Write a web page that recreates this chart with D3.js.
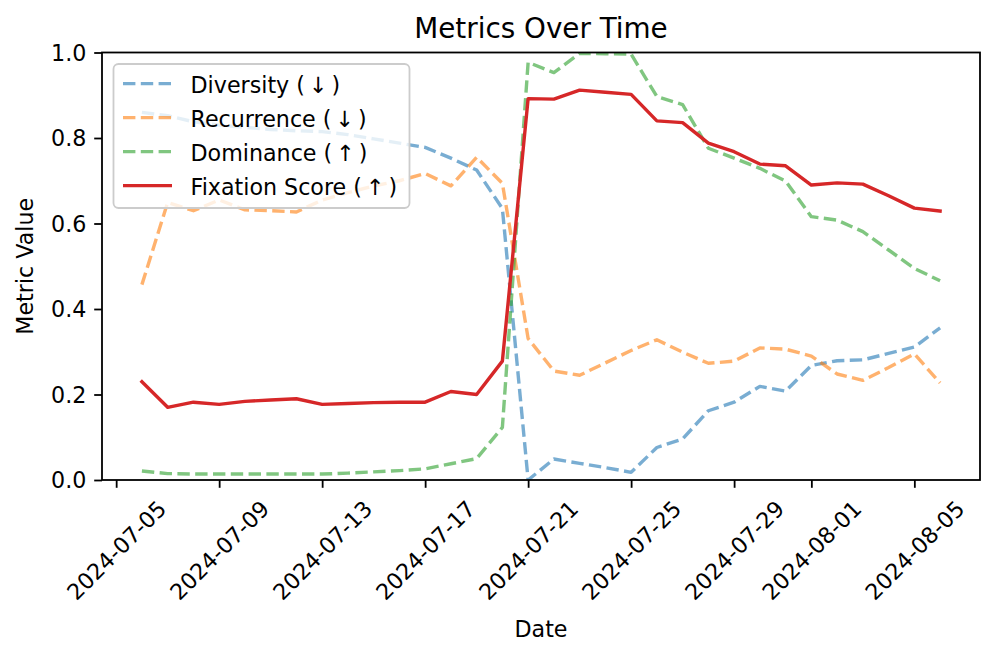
<!DOCTYPE html>
<html>
<head>
<meta charset="utf-8">
<script src="https://cdn.jsdelivr.net/npm/d3@7"></script>
<style>
  body { margin: 0; background: #fff; }
  text { font-family: "DejaVu Sans", sans-serif; fill: #000; }
</style>
</head>
<body>
<div id="chart"></div>
<script>
// ------------------------------------------------------------
// Data
// ------------------------------------------------------------
const dates = [
    "2024-07-06", "2024-07-07", "2024-07-08", "2024-07-09", "2024-07-10", "2024-07-11",
    "2024-07-12", "2024-07-13", "2024-07-14", "2024-07-15", "2024-07-16", "2024-07-17",
    "2024-07-18", "2024-07-19", "2024-07-20", "2024-07-21", "2024-07-22", "2024-07-23",
    "2024-07-24", "2024-07-25", "2024-07-26", "2024-07-27", "2024-07-28", "2024-07-29",
    "2024-07-30", "2024-07-31", "2024-08-01", "2024-08-02", "2024-08-03", "2024-08-04",
    "2024-08-05", "2024-08-06"
];

const diversity = [
    0.860, 0.852, 0.838, 0.830, 0.825, 0.820, 0.817, 0.815, 0.808, 0.798, 0.788, 0.778,
    0.753, 0.725, 0.635, 0.000, 0.049, 0.039, 0.029, 0.018, 0.076, 0.096, 0.162, 0.182,
    0.219, 0.208, 0.268, 0.279, 0.281, 0.296, 0.311, 0.356
];

const recurrence = [
    0.457, 0.649, 0.630, 0.655, 0.632, 0.630, 0.627, 0.655, 0.672, 0.688, 0.700, 0.717,
    0.688, 0.755, 0.694, 0.331, 0.255, 0.245, 0.274, 0.303, 0.328, 0.299, 0.273, 0.278,
    0.309, 0.306, 0.290, 0.248, 0.233, 0.263, 0.295, 0.227
];

const dominance = [
    0.021, 0.015, 0.014, 0.014, 0.014, 0.014, 0.014, 0.014, 0.016, 0.019, 0.022, 0.026,
    0.038, 0.050, 0.123, 0.977, 0.953, 0.998, 0.997, 0.996, 0.897, 0.878, 0.776, 0.753,
    0.729, 0.699, 0.616, 0.608, 0.581, 0.538, 0.495, 0.466
];

const fixation = [
    0.230, 0.170, 0.182, 0.177, 0.184, 0.187, 0.190, 0.177, 0.179, 0.181, 0.182, 0.182,
    0.207, 0.200, 0.278, 0.892, 0.891, 0.912, 0.907, 0.902, 0.840, 0.836, 0.788, 0.768,
    0.739, 0.735, 0.690, 0.695, 0.692, 0.665, 0.636, 0.629
];

const xTickLabels = [
    "2024-07-05", "2024-07-09", "2024-07-13", "2024-07-17", "2024-07-21",
    "2024-07-25", "2024-07-29", "2024-08-01", "2024-08-05"
];
const yTickValues = [0.0, 0.2, 0.4, 0.6, 0.8, 1.0];

const seriesNames = ["Diversity (↓)", "Recurrence (↓)", "Dominance (↑)", "Fixation Score (↑)"];
const seriesValues = [diversity, recurrence, dominance, fixation];

// ------------------------------------------------------------
// Layout / style
// ------------------------------------------------------------
const width = 997, height = 658;
const plot = { left: 102, right: 980, top: 52.5, bottom: 480 };
const fontSize = 22.2;
const lineWidth = 3.4;
const tickLen = 7.8, tickPad = 7.8;

const styles = [
    { color: "#1f77b4", alpha: 0.6, dash: "12.4,5.4" },
    { color: "#ff7f0e", alpha: 0.6, dash: "12.4,5.4" },
    { color: "#2ca02c", alpha: 0.6, dash: "12.4,5.4" },
    { color: "#d62728", alpha: 1.0, dash: null }
];

const parse = d3.timeParse("%Y-%m-%d");
const fmt = d3.timeFormat("%Y-%m-%d");
const xDates = dates.map(parse);

const svg = d3.select("#chart")
    .append("svg")
    .attr("width", width)
    .attr("height", height);

// Scales: matplotlib style 5% margin on x
const [x0, x1] = d3.extent(xDates);
const span = x1 - x0;
const xScale = d3.scaleTime()
    .domain([new Date(+x0 - span * 0.05), new Date(+x1 + span * 0.05)])
    .range([plot.left, plot.right]);

const yScale = d3.scaleLinear()
    .domain([0, 1])
    .range([plot.bottom, plot.top]);

// Lines
svg.append("clipPath").attr("id", "plot-clip")
    .append("rect")
    .attr("x", plot.left).attr("y", plot.top)
    .attr("width", plot.right - plot.left)
    .attr("height", plot.bottom - plot.top);

const line = d3.line()
    .x(d => xScale(d[0]))
    .y(d => yScale(d[1]));

const linesG = svg.append("g").attr("clip-path", "url(#plot-clip)");
seriesValues.forEach((vals, i) => {
    const st = styles[i];
    linesG.append("path")
        .datum(xDates.map((d, j) => [d, vals[j]]))
        .attr("d", line)
        .attr("fill", "none")
        .attr("stroke", st.color)
        .attr("stroke-opacity", st.alpha)
        .attr("stroke-width", lineWidth)
        .attr("stroke-linejoin", "round")
        .attr("stroke-linecap", st.dash ? "butt" : "square")
        .attr("stroke-dasharray", st.dash);
});

// Axes
const xAxis = d3.axisBottom(xScale)
    .tickValues(xTickLabels.map(parse))
    .tickFormat(fmt)
    .tickSize(tickLen)
    .tickPadding(tickPad)
    .tickSizeOuter(0);

const gx = svg.append("g")
    .attr("transform", `translate(0,${plot.bottom})`)
    .call(xAxis);

gx.select(".domain").remove();
gx.selectAll(".tick line").attr("stroke", "#000").attr("stroke-width", 1.8);
gx.selectAll(".tick text")
    .attr("font-size", fontSize)
    .attr("font-family", "DejaVu Sans")
    .attr("text-anchor", "middle")
    .attr("y", null)
    .attr("dy", "0.35em")
    .each(function () {
        // rotate 45deg, bbox centred on tick, top at tick + pad
        const w = this.getComputedTextLength();
        const h = fontSize * 1.164;
        const half = (w + h) / (2 * Math.SQRT2);
        d3.select(this).attr("transform", `translate(0,${tickLen + tickPad + half}) rotate(-45)`);
    });

const yAxis = d3.axisLeft(yScale)
    .tickValues(yTickValues)
    .tickFormat(d3.format(".1f"))
    .tickSize(tickLen)
    .tickPadding(tickPad)
    .tickSizeOuter(0);

const gy = svg.append("g")
    .attr("transform", `translate(${plot.left},0)`)
    .call(yAxis);

gy.select(".domain").remove();
gy.selectAll(".tick line").attr("stroke", "#000").attr("stroke-width", 1.8);
gy.selectAll(".tick text")
    .attr("font-size", fontSize)
    .attr("font-family", "DejaVu Sans")
    .attr("dy", "0.35em");

// Spines
svg.append("rect")
    .attr("x", plot.left).attr("y", plot.top)
    .attr("width", plot.right - plot.left)
    .attr("height", plot.bottom - plot.top)
    .attr("fill", "none")
    .attr("stroke", "#000")
    .attr("stroke-width", 1.8);

// Legend
const legend = svg.append("g");
legend.append("rect")
    .attr("x", 113.5).attr("y", 64)
    .attr("width", 296).attr("height", 144)
    .attr("rx", 5).attr("ry", 5)
    .attr("fill", "#fff")
    .attr("fill-opacity", 0.8)
    .attr("stroke", "#cccccc")
    .attr("stroke-width", 1.8);

seriesNames.forEach((name, i) => {
    const st = styles[i];
    const base = 93.3 + i * 34;
    legend.append("line")
        .attr("x1", 123).attr("x2", 172)
        .attr("y1", base - 9.7).attr("y2", base - 9.7)
        .attr("stroke", st.color)
        .attr("stroke-opacity", st.alpha)
        .attr("stroke-width", lineWidth)
        .attr("stroke-dasharray", st.dash);
    // arrow glyph gets a little extra room, as in the reference
    const k = name.length - 2;
    const t = legend.append("text")
        .attr("x", 190.5).attr("y", base)
        .attr("font-size", fontSize);
    t.append("tspan").text(name.slice(0, k));
    t.append("tspan").attr("dx", 4).text(name.slice(k, k + 1));
    t.append("tspan").attr("dx", 4).text(name.slice(k + 1));
});

// Titles
svg.append("text")
    .attr("x", (plot.left + plot.right) / 2)
    .attr("y", 37.7)
    .attr("text-anchor", "middle")
    .attr("font-size", 27.8)
    .text("Metrics Over Time");

svg.append("text")
    .attr("x", (plot.left + plot.right) / 2)
    .attr("y", 636.5)
    .attr("text-anchor", "middle")
    .attr("font-size", fontSize)
    .text("Date");

svg.append("text")
    .attr("transform", `translate(33.3,${(plot.top + plot.bottom) / 2}) rotate(-90)`)
    .attr("text-anchor", "middle")
    .attr("font-size", fontSize)
    .text("Metric Value");
</script>
</body>
</html>
